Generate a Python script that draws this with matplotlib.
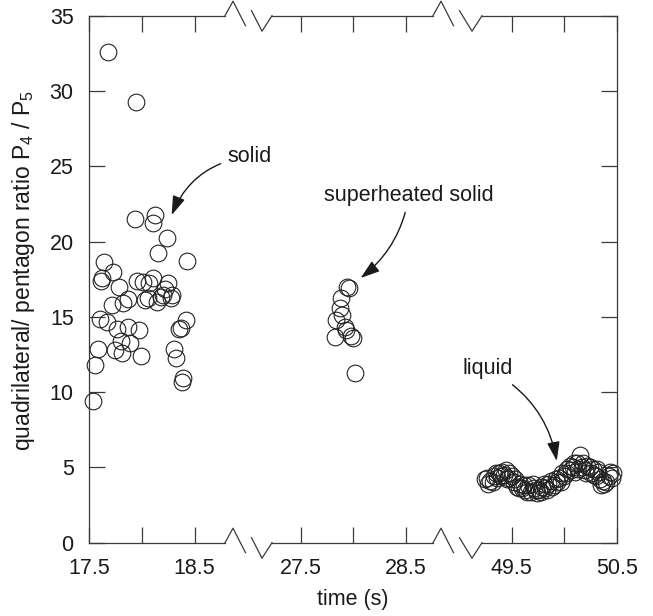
import matplotlib.pyplot as plt
from matplotlib.lines import Line2D

plt.rcParams['font.family'] = ['Liberation Sans', 'DejaVu Sans']
plt.rcParams['mathtext.fontset'] = 'custom'
plt.rcParams['mathtext.rm'] = 'Liberation Sans'
plt.rcParams['mathtext.it'] = 'Liberation Sans'

# solid phase (17.5 - 18.5 s)
solid_t = [17.683, 17.945, 17.936, 18.109, 18.125, 18.236, 18.156, 18.430, 17.645, 17.724,
           17.620, 17.610, 17.787, 17.957, 18.008, 18.103, 18.070, 18.250, 18.220, 17.872,
           17.825, 17.715, 18.030, 18.060, 18.140, 18.180, 18.200, 18.280, 18.290, 17.604,
           17.668, 17.768, 17.872, 17.977, 18.352, 18.368, 18.415, 17.800, 17.888, 17.582,
           17.746, 17.810, 17.992, 18.305, 18.320, 17.557, 18.393, 18.384, 17.541]
solid_r = [32.62, 29.30, 21.49, 21.26, 21.77, 20.22, 19.23, 18.72, 18.63, 18.00,
           17.57, 17.39, 17.00, 17.41, 17.34, 17.57, 17.23, 17.23, 16.84, 16.17,
           15.90, 15.79, 16.13, 16.24, 16.01, 16.35, 16.46, 16.24, 16.46, 14.84,
           14.68, 14.18, 14.31, 14.13, 14.18, 14.24, 14.80, 13.40, 13.29, 12.85,
           12.80, 12.58, 12.40, 12.85, 12.29, 11.81, 10.92, 10.70, 9.44]

# superheated solid (27.5 - 28.5 s)
super_t = [27.957, 27.941, 27.888, 27.872, 27.898, 27.840, 27.920, 27.825, 27.983, 27.998,
           27.935, 28.014]
super_r = [16.90, 16.97, 16.24, 15.57, 15.13, 14.80, 14.35, 13.69, 13.73, 13.62,
           14.13, 11.30]

# liquid (49.5 - 50.5 s)
liquid_t = [49.25, 49.28, 49.30, 49.33, 49.36, 49.38, 49.41, 49.43, 49.46, 49.48,
            49.50, 49.52, 49.55, 49.58, 49.60, 49.63, 49.66, 49.68, 49.71, 49.74,
            49.76, 49.79, 49.82, 49.85, 49.87, 49.90, 49.93, 49.95, 49.98, 50.00,
            50.03, 50.05, 50.08, 50.10, 50.12, 50.15, 50.17, 50.20, 50.22, 50.25,
            50.27, 50.30, 50.32, 50.35, 50.37, 50.40, 50.43, 50.45,
            49.27, 49.32, 49.35, 49.40, 49.45, 49.47, 49.53, 49.57, 49.62, 49.65,
            49.70, 49.73, 49.78, 49.81, 49.84, 49.88, 49.92, 49.97, 50.02, 50.06,
            50.09, 50.13, 50.18, 50.21, 50.24, 50.28, 50.31, 50.34, 50.38, 50.42,
            50.46]
liquid_r = [4.2, 3.9, 4.1, 4.4, 4.3, 4.6, 4.7, 4.5, 4.2, 4.6,
            4.4, 4.0, 3.7, 3.9, 3.6, 3.5, 3.8, 3.4, 3.6, 3.3,
            3.5, 3.7, 3.6, 3.9, 4.1, 3.8, 4.0, 4.3, 4.6, 4.4,
            4.9, 5.1, 5.05, 4.7, 5.3, 5.8, 5.0, 4.8, 5.1, 4.6,
            4.9, 4.4, 4.7, 3.8, 4.1, 4.0, 4.7, 4.3,
            4.3, 4.0, 4.6, 4.4, 4.8, 4.3, 4.2, 3.6, 3.8, 3.4,
            3.9, 3.5, 3.4, 3.9, 3.5, 3.7, 4.2, 4.0, 4.6, 4.8,
            5.3, 4.9, 5.3, 4.6, 5.0, 4.5, 4.9, 4.2, 3.9, 4.4,
            4.6]

xlims = [(17.5, 18.788), (27.228, 28.759), (49.22, 50.5)]
xticks = [[17.5, 18.0, 18.5], [27.5, 28.0, 28.5], [49.5, 50.0, 50.5]]
xticklabels = [['17.5', '', '18.5'], ['27.5', '', '28.5'], ['49.5', '', '50.5']]
series = [(solid_t, solid_r), (super_t, super_r), (liquid_t, liquid_r)]

W, H = 653, 616
fig = plt.figure(figsize=(W / 100, H / 100), dpi=100)
top_px, bot_px = 15.7, 542.7
seg_px = [(89, 225), (272, 433), (482, 617)]
line_col = '#3a3a3a'
txt_col = '#1a1a1a'

axes = []
for i, (x0, x1) in enumerate(seg_px):
    ax = fig.add_axes([x0 / W, 1 - bot_px / H, (x1 - x0) / W, (bot_px - top_px) / H])
    ax.set_facecolor('none')
    t, r = series[i]
    ax.plot(t, r, 'o', ms=12, mfc='none', mec='#222222', mew=0.8, clip_on=False)
    ax.set_xlim(*xlims[i])
    ax.set_ylim(0, 35)
    ax.set_xticks(xticks[i])
    ax.set_xticklabels(xticklabels[i])
    ax.set_yticks(range(0, 36, 5))
    ax.tick_params(direction='in', length=11.5, width=0.9, color=line_col,
                   labelsize=15.5, labelcolor=txt_col, pad=11, top=True)
    for s in ax.spines.values():
        s.set_color(line_col)
        s.set_linewidth(0.9)
    axes.append(ax)

axes[0].spines['right'].set_visible(False)
axes[0].tick_params(axis='y', right=False)
axes[1].spines['left'].set_visible(False)
axes[1].spines['right'].set_visible(False)
axes[1].tick_params(axis='y', left=False, right=False, labelleft=False)
axes[2].spines['left'].set_visible(False)
axes[2].tick_params(axis='y', left=False, right=True, labelleft=False)

# break marks on the top and bottom axis lines
def fig_pt(x, y):
    return x / W, 1 - y / H

for xs, xe in [(seg_px[0][1], seg_px[1][0]), (seg_px[1][1], seg_px[2][0])]:
    for y0 in (top_px, bot_px):
        p1 = [(xs, y0), (xs + 8, y0 - 14.5), (xs + 20.5, y0 + 10)]
        p2 = [(xs + 26.5, y0 - 5), (xe - 10, y0 + 15.5), (xe, y0)]
        for pts in (p1, p2):
            xy = [fig_pt(x, y) for x, y in pts]
            fig.add_artist(Line2D([p[0] for p in xy], [p[1] for p in xy],
                                  transform=fig.transFigure, color=line_col, lw=0.9))

arrow = dict(arrowstyle='-|>,head_length=0.75,head_width=0.25', color='#1a1a1a', lw=1.0,
             shrinkA=3, shrinkB=0)
axes[0].annotate('solid', xy=(18.283, 21.76), xytext=(19.02, 25.63), fontsize=15.5,
                 color=txt_col, ha='center', va='center', zorder=5,
                 arrowprops=dict(arrow, connectionstyle='arc3,rad=0.3'))
axes[1].annotate('superheated solid', xy=(28.071, 17.58), xytext=(28.53, 23.09), fontsize=15.5,
                 color=txt_col, ha='center', va='center', zorder=5,
                 arrowprops=dict(arrow, connectionstyle='arc3,rad=-0.2'))
axes[2].annotate('liquid', xy=(49.929, 5.43), xytext=(49.271, 11.54), fontsize=15.5,
                 color=txt_col, ha='center', va='center', zorder=5,
                 arrowprops=dict(arrow, connectionstyle='arc3,rad=-0.25'))

fig.text(353 / W, 1 - 600 / H, 'time (s)', fontsize=15.5, color=txt_col, ha='center', va='center')
fig.text(24 / W, 1 - 270 / H, 'quadrilateral/ pentagon ratio P$_4$ / P$_5$', fontsize=16.5,
         color=txt_col, rotation=90, ha='center', va='center')

fig.savefig('out.png', dpi=100)
